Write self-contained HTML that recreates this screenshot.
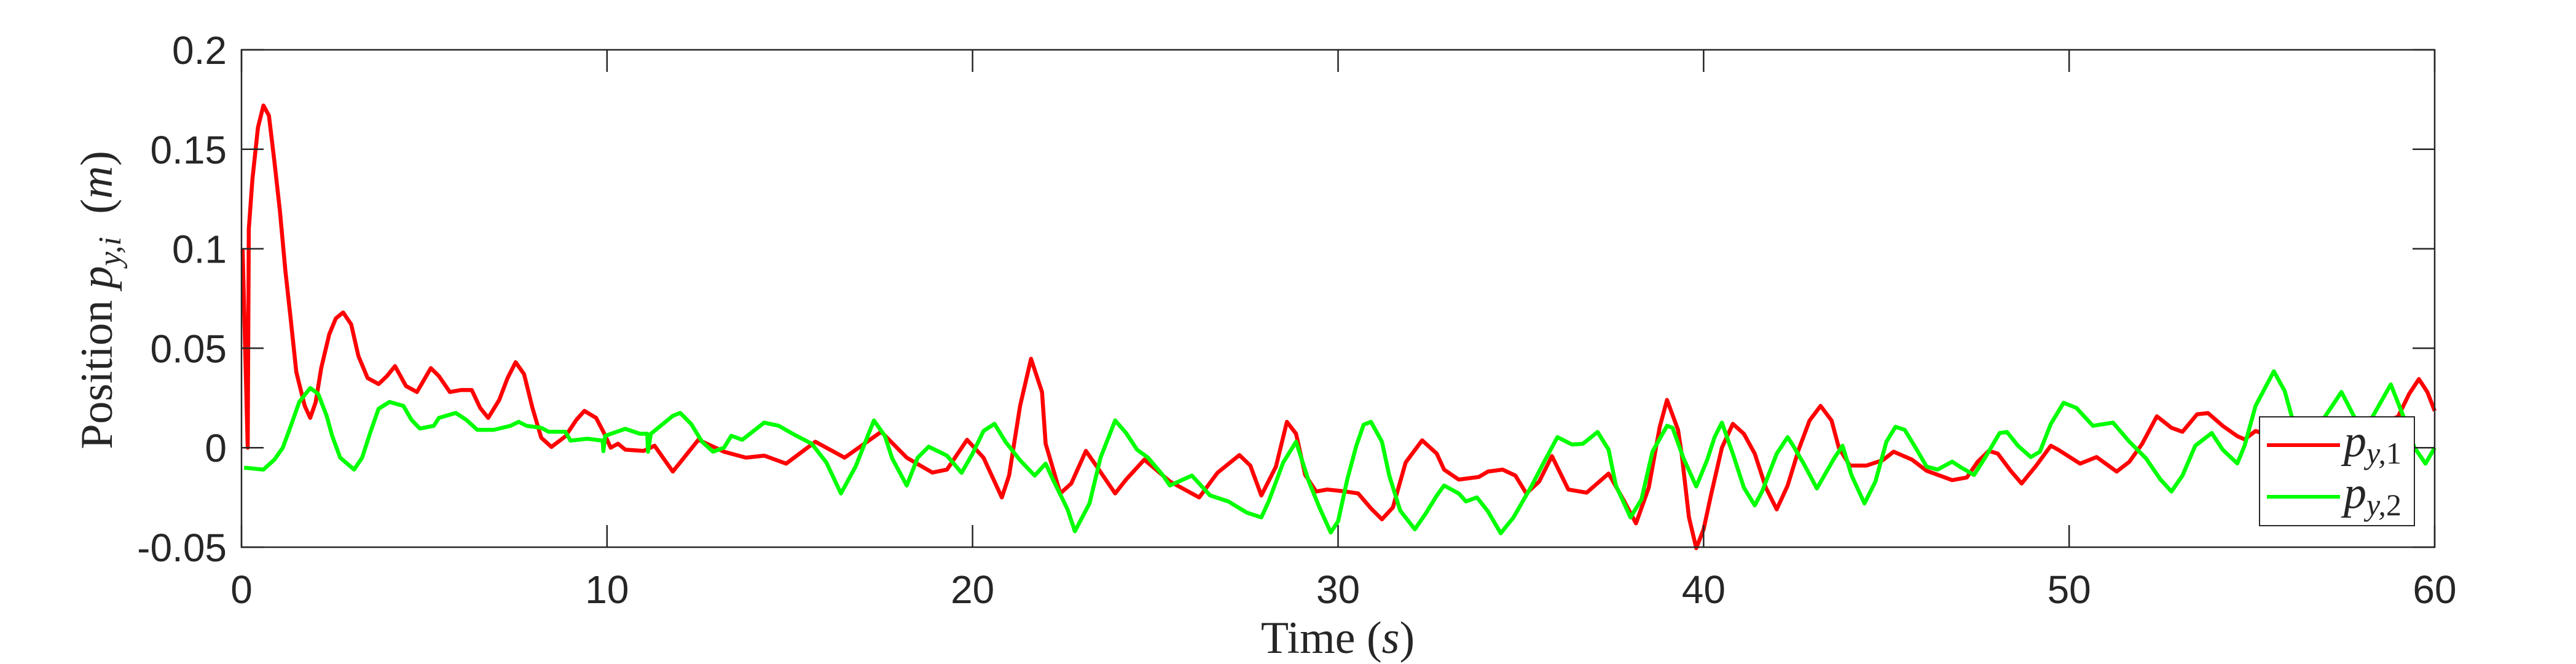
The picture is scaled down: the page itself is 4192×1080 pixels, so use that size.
<!DOCTYPE html>
<html><head><meta charset="utf-8">
<style>
html,body{margin:0;padding:0;background:#fff;}
svg{display:block;}
.tick{font-family:"Liberation Sans",sans-serif;font-size:64px;fill:#262626;}
.lab{font-family:"Liberation Serif",serif;font-size:74px;fill:#262626;}
</style></head>
<body>
<svg id="chart" width="4192" height="1080" xmlns="http://www.w3.org/2000/svg">
<rect x="0" y="0" width="4192" height="1080" fill="#fff"/>
<g id="plot"></g>
<g id="axes"></g>
<text class="lab" transform="translate(182,488) rotate(-90)" text-anchor="middle">Position <tspan font-style="italic">p</tspan><tspan font-style="italic" font-size="52" dy="14">y,i</tspan><tspan dy="-14" xml:space="preserve">  (</tspan><tspan font-style="italic">m</tspan>)</text>
<text class="lab" x="2177" y="1062" text-anchor="middle" xml:space="preserve">Time (<tspan font-style="italic">s</tspan>)</text>
<g>
<rect x="3677" y="678" width="252" height="177" fill="#fff" stroke="#262626" stroke-width="2"/>
<line x1="3689" y1="724" x2="3808" y2="724" stroke="#ff0000" stroke-width="6"/>
<line x1="3689" y1="808" x2="3808" y2="808" stroke="#00ff00" stroke-width="6"/>
<text class="lab" x="3814" y="742" fill="#000" font-size="74"><tspan font-style="italic">p</tspan><tspan font-style="italic" font-size="50" dy="12">y,</tspan><tspan font-size="50">1</tspan></text>
<text class="lab" x="3814" y="826" fill="#000" font-size="74"><tspan font-style="italic">p</tspan><tspan font-style="italic" font-size="50" dy="12">y,</tspan><tspan font-size="50">2</tspan></text>
</g>
</svg>
<script>
const xTicks=[0,10,20,30,40,50,60];
const yTicks=[-0.05,0,0.05,0.1,0.15,0.2];
const yTickLabels=["-0.05","0","0.05","0.1","0.15","0.2"];
const t1=[0.03,0.17,0.2,0.3,0.45,0.6,0.75,0.9,1.05,1.2,1.35,1.5,1.73,1.88,2.03,2.18,2.4,2.58,2.78,3.0,3.2,3.45,3.75,3.98,4.2,4.5,4.8,5.18,5.4,5.7,6.0,6.3,6.53,6.75,7.05,7.28,7.5,7.73,7.96,8.2,8.48,8.86,9.16,9.38,9.7,9.9,10.1,10.3,10.5,11.0,11.3,11.8,12.5,13.2,13.8,14.3,14.9,15.7,16.5,17.5,18.2,18.9,19.3,19.85,20.3,20.8,21.0,21.3,21.6,21.9,22.0,22.4,22.7,23.1,23.4,23.9,24.2,24.7,25.4,26.2,26.7,27.3,27.6,27.9,28.3,28.6,28.85,29.1,29.4,29.7,30.2,30.55,30.9,31.2,31.5,31.85,32.3,32.7,32.9,33.3,33.85,34.1,34.5,34.85,35.15,35.5,35.85,36.3,36.8,37.4,37.8,38.15,38.5,38.8,39.0,39.3,39.4,39.6,39.8,40.0,40.2,40.5,40.8,41.1,41.4,41.7,42.0,42.3,42.6,42.9,43.2,43.5,43.7,44.0,44.45,44.9,45.2,45.7,46.1,46.8,47.2,47.5,47.8,48.05,48.4,48.7,49.1,49.5,49.7,50.3,50.75,51.3,51.65,52.0,52.4,52.8,53.1,53.5,53.8,54.2,54.6,54.8,55.1,55.5,56.0,56.5,57.0,57.5,58.0,58.5,59.0,59.3,59.57,59.8,60.0];
const v1=[0.1,0.0,0.11,0.135,0.161,0.172,0.167,0.144,0.119,0.089,0.064,0.038,0.021,0.015,0.023,0.04,0.057,0.065,0.068,0.062,0.046,0.035,0.032,0.036,0.041,0.031,0.028,0.04,0.036,0.028,0.029,0.029,0.02,0.015,0.024,0.035,0.043,0.037,0.02,0.005,0.0004,0.0057,0.014,0.0185,0.015,0.008,0.0,0.002,-0.001,-0.0016,0.001,-0.012,0.004,-0.002,-0.005,-0.004,-0.008,0.003,-0.005,0.008,-0.005,-0.0125,-0.011,0.004,-0.005,-0.025,-0.014,0.021,0.0447,0.028,0.002,-0.023,-0.018,-0.0016,-0.0095,-0.023,-0.016,-0.006,-0.017,-0.025,-0.0126,-0.0037,-0.009,-0.024,-0.0095,0.013,0.007,-0.0137,-0.022,-0.021,-0.022,-0.023,-0.0305,-0.036,-0.03,-0.0074,0.0037,-0.003,-0.011,-0.016,-0.0147,-0.012,-0.011,-0.014,-0.023,-0.017,-0.0042,-0.021,-0.0226,-0.013,-0.026,-0.038,-0.02,0.0105,0.024,0.009,-0.003,-0.035,-0.0505,-0.041,-0.024,0.0,0.012,0.007,-0.003,-0.02,-0.031,-0.019,-0.001,0.0137,0.021,0.0137,0.0,-0.009,-0.009,-0.0063,-0.002,-0.006,-0.0116,-0.0163,-0.015,-0.007,-0.0016,-0.003,-0.0116,-0.018,-0.009,0.001,-0.001,-0.008,-0.0047,-0.012,-0.007,0.002,0.0158,0.01,0.008,0.0168,0.0174,0.011,0.0058,0.0042,0.0084,0.006,0.008,0.009,0.008,0.008,0.009,0.012,0.0156,0.027,0.0345,0.028,0.0185];
const t2=[0.07,0.6,0.9,1.13,1.35,1.58,1.88,2.1,2.33,2.48,2.7,3.08,3.3,3.53,3.75,4.05,4.43,4.65,4.88,5.26,5.4,5.86,6.15,6.45,6.9,7.36,7.58,7.8,8.2,8.4,8.86,9.0,9.46,9.88,9.9,9.95,10.5,10.9,11.1,11.12,11.2,11.8,12.0,12.3,12.6,12.9,13.2,13.4,13.7,14.3,14.7,15.1,15.6,16.0,16.4,16.8,17.3,17.6,17.8,18.2,18.5,18.8,19.3,19.7,20.0,20.3,20.6,20.9,21.3,21.7,22.0,22.2,22.6,22.8,23.2,23.5,23.9,24.2,24.5,24.8,25.2,25.4,26.0,26.5,27.0,27.5,27.9,28.1,28.5,28.85,29.2,29.5,29.8,30.0,30.25,30.5,30.7,30.9,31.2,31.4,31.7,32.1,32.4,32.7,32.9,33.3,33.5,33.8,34.1,34.45,34.8,35.3,35.6,36.0,36.4,36.7,37.1,37.4,37.6,38.0,38.3,38.6,39.0,39.15,39.45,39.8,40.1,40.3,40.5,40.8,41.1,41.4,41.6,42.0,42.3,42.45,42.75,43.1,43.55,43.8,44.05,44.4,44.7,45.0,45.25,45.5,45.8,46.1,46.4,46.8,47.05,47.4,47.7,48.1,48.3,48.6,48.95,49.2,49.5,49.85,50.2,50.65,51.2,51.65,52.1,52.5,52.8,53.1,53.45,53.9,54.2,54.6,54.8,55.1,55.6,55.9,56.1,56.5,57.0,57.45,57.8,58.05,58.3,58.8,59.15,59.45,59.75,60.0];
const v2=[-0.01,-0.011,-0.006,0.0,0.011,0.023,0.03,0.027,0.016,0.006,-0.005,-0.011,-0.005,0.008,0.0196,0.023,0.021,0.014,0.0096,0.011,0.015,0.0175,0.014,0.009,0.009,0.011,0.013,0.011,0.01,0.008,0.008,0.0036,0.0045,0.0036,-0.0017,0.006,0.0095,0.007,0.007,-0.002,0.007,0.016,0.0175,0.012,0.003,-0.002,0.0,0.006,0.004,0.0126,0.011,0.0068,0.002,-0.0074,-0.023,-0.0095,0.0137,0.006,-0.0053,-0.019,-0.005,0.0005,-0.004,-0.0126,-0.003,0.0084,0.012,0.003,-0.0063,-0.014,-0.008,-0.016,-0.031,-0.042,-0.028,-0.005,0.0137,0.0074,-0.001,-0.005,-0.0137,-0.019,-0.014,-0.024,-0.027,-0.0326,-0.035,-0.027,-0.0074,0.003,-0.017,-0.0305,-0.0426,-0.037,-0.016,0.001,0.0116,0.013,0.003,-0.014,-0.0316,-0.041,-0.033,-0.024,-0.019,-0.023,-0.027,-0.025,-0.032,-0.043,-0.035,-0.019,-0.0084,0.0053,0.0016,0.002,0.0079,-0.001,-0.019,-0.035,-0.026,-0.002,0.011,0.01,-0.0053,-0.0195,-0.006,0.0053,0.0126,-0.003,-0.02,-0.029,-0.022,-0.003,0.0053,0.001,-0.0084,-0.0205,-0.006,0.001,-0.014,-0.028,-0.017,0.003,0.0105,0.009,0.0,-0.0095,-0.011,-0.007,-0.01,-0.0137,-0.005,0.0074,0.0079,0.001,-0.0047,-0.002,0.012,0.0226,0.02,0.011,0.0126,0.003,-0.0053,-0.016,-0.022,-0.014,0.001,0.0074,-0.001,-0.0079,0.001,0.021,0.0384,0.0284,0.015,0.005,0.0156,0.028,0.0156,0.008,0.0156,0.0318,0.0155,0.0,-0.008,0.0];

const X0=393,X1=3962,Y0=890,Y1=81,XMIN=0,XMAX=60,YMIN=-0.05,YMAX=0.2;
function xs(t){return X0+(t-XMIN)/(XMAX-XMIN)*(X1-X0);}
function ys(v){return Y0-(v-YMIN)/(YMAX-YMIN)*(Y0-Y1);}
const NS="http://www.w3.org/2000/svg";
function mk(tag,attrs,parent){const e=document.createElementNS(NS,tag);for(const k in attrs)e.setAttribute(k,attrs[k]);parent.appendChild(e);return e;}
const plot=document.getElementById('plot'),axes=document.getElementById('axes');
function drawLine(ts,vs,color,name){
  let d='';
  for(let i=0;i<ts.length;i++){d+=(i?'L':'M')+xs(ts[i]).toFixed(1)+','+ys(vs[i]).toFixed(1);}
  const p=mk('path',{d:d,fill:'none',stroke:color,'stroke-width':6.5,'stroke-linejoin':'round'},plot);
  
  
}
drawLine(t1,v1,'#ff0000','series-py1');
drawLine(t2,v2,'#00ff00','series-py2');
const box=mk('rect',{x:X0,y:Y1,width:X1-X0,height:Y0-Y1,fill:'none',stroke:'#262626','stroke-width':2.5},axes);


xTicks.forEach(t=>{
  const x=xs(t);
  const a=mk('line',{x1:x,y1:Y0,x2:x,y2:Y0-36,stroke:'#262626','stroke-width':2.5},axes);
  
  
  const b=mk('line',{x1:x,y1:Y1,x2:x,y2:Y1+36,stroke:'#262626','stroke-width':2.5},axes);
  
  
  const l=mk('text',{x:x,y:981,'text-anchor':'middle','class':'tick'},axes);
  l.textContent=String(t);
  
  
});
yTicks.forEach((v,i)=>{
  const y=ys(v);
  const a=mk('line',{x1:X0,y1:y,x2:X0+36,y2:y,stroke:'#262626','stroke-width':2.5},axes);
  
  
  const b=mk('line',{x1:X1,y1:y,x2:X1-36,y2:y,stroke:'#262626','stroke-width':2.5},axes);
  
  
  const l=mk('text',{x:X0-24,y:y+23,'text-anchor':'end','class':'tick'},axes);
  l.textContent=yTickLabels[i];
  
  
});
</script>
</body></html>
